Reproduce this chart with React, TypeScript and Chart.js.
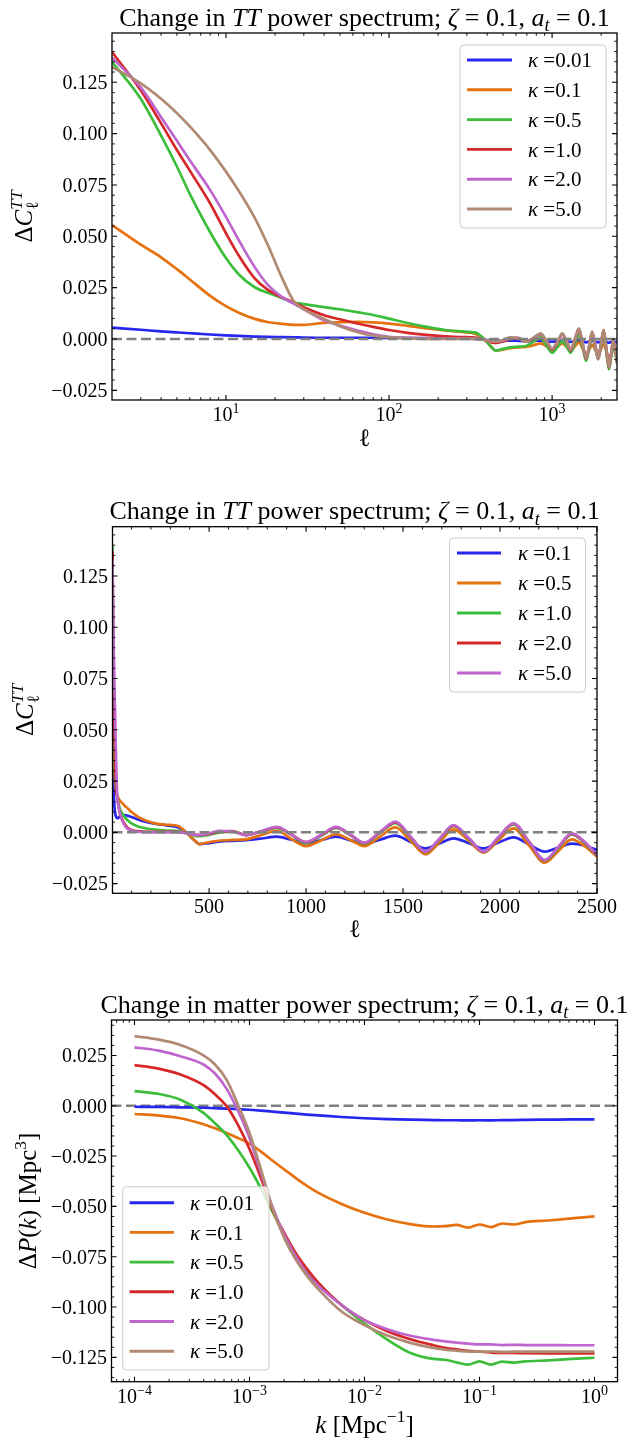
import React, { useEffect, useRef } from "react";
import { Chart, registerables } from "chart.js";
Chart.register(...registerables);

// ---------- CMB TT: multipole grid and ΔC_ℓ^TT for each κ ----------
const ELL = [
  2, 3, 4, 5, 6, 8, 10, 12, 15, 18, 22, 26, 30, 40, 50, 65, 80, 100, 130, 170,
  220, 280, 340, 380, 420, 450, 500, 550, 620, 690, 770, 850, 920, 1000, 1080,
  1155, 1230, 1300, 1380, 1460, 1540, 1615, 1690, 1760, 1840, 1915, 1990, 2070,
  2150, 2230, 2300, 2370, 2440, 2500,
];
const DCL_K001 = [
  0.0055, 0.0045, 0.0037, 0.0032, 0.0028, 0.0022, 0.0018, 0.0015, 0.0012, 0.001,
  0.0009, 0.0008, 0.0007, 0.0006, 0.0006, 0.0006, 0.0006, 0.0005, 0.0005, 0.0004,
  0.0003, 0.0002, 0.0001, -0.0003, -0.0008, -0.001, -0.0009, -0.0008, -0.0009, -0.001,
  -0.0009, -0.0008, -0.0011, -0.0013, -0.0011, -0.0009, -0.0012, -0.0014, -0.0011, -0.0008,
  -0.0012, -0.0016, -0.0012, -0.0009, -0.0013, -0.0016, -0.0012, -0.0009, -0.0014, -0.0018,
  -0.0014, -0.0011, -0.0014, -0.0017,
];
const DCL_K01 = [
  0.0555, 0.046, 0.0398, 0.034, 0.029, 0.021, 0.016, 0.0128, 0.0098, 0.0083,
  0.0074, 0.0069, 0.0069, 0.0079, 0.0082, 0.0084, 0.0081, 0.0075, 0.0064, 0.0052,
  0.0042, 0.0034, 0.0025, 0.0002, -0.0035, -0.0057, -0.0052, -0.0045, -0.0041, -0.0038,
  -0.003, -0.0021, -0.0035, -0.0053, -0.0037, -0.0021, -0.0039, -0.0057, -0.0036, -0.0016,
  -0.0047, -0.0078, -0.0053, -0.0029, -0.0053, -0.0078, -0.0051, -0.0024, -0.0059, -0.0094,
  -0.0074, -0.0055, -0.0065, -0.0086,
];
const DCL_K05 = [
  0.135, 0.117, 0.099, 0.084, 0.0707, 0.052, 0.0394, 0.0314, 0.0252, 0.0225,
  0.02, 0.0178, 0.017, 0.0155, 0.0145, 0.013, 0.0117, 0.0099, 0.0078, 0.0059,
  0.0044, 0.0037, 0.0031, 0.0002, -0.0035, -0.0057, -0.0048, -0.0041, -0.0037, -0.0034,
  -0.0013, 0.0008, -0.003, -0.0067, -0.0038, -0.001, -0.0038, -0.0067, -0.0022, 0.0024,
  -0.0042, -0.0107, -0.0046, 0.0015, -0.0042, -0.0099, -0.004, 0.0019, -0.0065, -0.0148,
  -0.0092, -0.0034, -0.007, -0.0118,
];
const DCL_K1 = [
  0.1397, 0.1211, 0.105, 0.092, 0.082, 0.066, 0.0515, 0.0405, 0.0295, 0.024,
  0.0203, 0.0177, 0.0155, 0.0116, 0.0096, 0.0074, 0.0059, 0.0044, 0.003, 0.002,
  0.0013, 0.0009, 0.0007, -0.0003, -0.0015, -0.0019, -0.0012, -0.0001, 0.0004, -0.0013,
  0.0003, 0.0022, -0.001, -0.0052, -0.0015, 0.0022, -0.0015, -0.0055, -0.0003, 0.0045,
  -0.0026, -0.0097, -0.0033, 0.0031, -0.0033, -0.0096, -0.0029, 0.0039, -0.0048, -0.0138,
  -0.0077, -0.001, -0.0055, -0.0112,
];
const DCL_K2 = [
  0.137, 0.1225, 0.108, 0.0965, 0.087, 0.0725, 0.0595, 0.048, 0.035, 0.0265,
  0.0205, 0.0172, 0.0145, 0.0091, 0.0066, 0.004, 0.0023, 0.0011, 0.0006, 0.0003,
  0.0002, 0.0002, 0.0002, -0.0003, -0.0011, -0.0013, -0.0008, 0.0003, 0.0006, -0.0013,
  0.0005, 0.0024, -0.0008, -0.0048, -0.0012, 0.0024, -0.0013, -0.0052, 0.0, 0.0049,
  -0.0023, -0.0095, -0.003, 0.0033, -0.003, -0.0095, -0.0027, 0.0042, -0.0046, -0.0136,
  -0.0073, -0.0007, -0.0052, -0.0111,
];
const DCL_K5 = [
  0.1325, 0.1245, 0.117, 0.11, 0.1035, 0.092, 0.0815, 0.072, 0.059, 0.046,
  0.03, 0.0185, 0.0145, 0.0098, 0.0062, 0.0032, 0.0017, 0.0008, 0.0003, 0.0001,
  0.0001, 0.0001, 0.0001, -0.0004, -0.0011, -0.0013, -0.0005, 0.0008, 0.0005, -0.0013,
  0.0007, 0.0027, -0.0008, -0.0047, -0.001, 0.0027, -0.0012, -0.005, 0.0001, 0.0052,
  -0.0021, -0.0094, -0.0029, 0.0036, -0.0029, -0.0094, -0.0025, 0.0044, -0.0045, -0.0135,
  -0.0071, -0.0005, -0.005, -0.011,
];

// ---------- Matter power: k grid [Mpc^-1] and ΔP(k) for each κ ----------
const K_MPC = [
  1.0e-4, 1.58e-4, 2.51e-4, 3.98e-4, 5.01e-4, 6.31e-4, 7.94e-4, 1.0e-3, 1.26e-3, 1.58e-3,
  2.0e-3, 2.51e-3, 3.16e-3, 3.98e-3, 6.31e-3, 1.0e-2, 1.58e-2, 2.51e-2, 3.98e-2, 5.01e-2,
  6.31e-2, 7.94e-2, 0.1, 0.126, 0.158, 0.2, 0.251, 0.398, 0.631, 1.0,
];
const DPK_K001 = [
  -0.0005, -0.0006, -0.0008, -0.001, -0.0012, -0.0014, -0.0017, -0.002, -0.0024, -0.0029,
  -0.0034, -0.0039, -0.0044, -0.0048, -0.0056, -0.0062, -0.0066, -0.0069, -0.0071, -0.0072,
  -0.0072, -0.0073, -0.0072, -0.0073, -0.0071, -0.0071, -0.007, -0.0069, -0.0068, -0.0068,
];
const DPK_K01 = [
  -0.0041, -0.0048, -0.0062, -0.0092, -0.0112, -0.0135, -0.016, -0.0188, -0.0228, -0.0272,
  -0.0316, -0.0358, -0.0398, -0.0433, -0.0488, -0.0532, -0.0565, -0.0588, -0.06, -0.0598,
  -0.0592, -0.0606, -0.059, -0.0603, -0.0585, -0.059, -0.0578, -0.057, -0.056, -0.055,
];
const DPK_K05 = [
  0.0073, 0.006, 0.003, -0.0035, -0.0087, -0.0145, -0.022, -0.0308, -0.0412, -0.0525,
  -0.064, -0.0735, -0.082, -0.0885, -0.099, -0.1082, -0.1162, -0.1228, -0.1258, -0.1262,
  -0.1275, -0.1286, -0.127, -0.1286, -0.1271, -0.1276, -0.127, -0.1265, -0.1258, -0.1252,
];
const DPK_K1 = [
  0.0202, 0.0186, 0.0155, 0.0102, 0.0057, -0.0002, -0.0095, -0.0215, -0.036, -0.0515,
  -0.063, -0.073, -0.081, -0.088, -0.099, -0.1065, -0.112, -0.116, -0.119, -0.1203,
  -0.121, -0.1218, -0.1222, -0.1226, -0.1228, -0.1228, -0.1229, -0.123, -0.123, -0.123,
];
const DPK_K2 = [
  0.029, 0.0275, 0.0246, 0.0205, 0.016, 0.0085, -0.0025, -0.016, -0.0335, -0.05,
  -0.064, -0.0745, -0.0833, -0.0895, -0.099, -0.1065, -0.111, -0.1143, -0.1163, -0.1171,
  -0.1177, -0.1182, -0.1186, -0.1186, -0.1189, -0.1188, -0.1189, -0.1189, -0.119, -0.119,
];
const DPK_K5 = [
  0.0346, 0.033, 0.0302, 0.025, 0.0205, 0.013, 0.0005, -0.0135, -0.0318, -0.0508,
  -0.0655, -0.0762, -0.0845, -0.0912, -0.1022, -0.109, -0.1142, -0.1178, -0.1203, -0.1212,
  -0.1217, -0.1221, -0.1222, -0.1221, -0.1223, -0.1222, -0.1222, -0.1222, -0.1222, -0.1222,
];

// ---------- tick values ----------
const Y_TICKS_CL = [-0.025, 0.0, 0.025, 0.05, 0.075, 0.1, 0.125];
const Y_TICKS_PK = [-0.125, -0.1, -0.075, -0.05, -0.025, 0.0, 0.025];
const X_TICKS_ELL_LOG = [10, 100, 1000];
const X_TICKS_ELL_LIN = [500, 1000, 1500, 2000, 2500];
const X_TICKS_K = [1e-4, 1e-3, 1e-2, 1e-1, 1];

// ---------- colours ----------
const C_BLUE = "#2626ee";
const C_ORANGE = "#e5720f";
const C_GREEN = "#3cbe3c";
const C_RED = "#d62828";
const C_PURPLE = "#be66cd";
const C_BROWN = "#b08a72";
const C_ZERO = "#808080";

const SERIF = '"Liberation Serif", "Times New Roman", Times, serif';

type Seg = { t: string; it?: boolean; sup?: boolean; sub?: boolean; stack?: boolean };

function fontFor(s: Seg, size: number) {
  const sz = s.sup || s.sub ? size * 0.7 : size;
  return `${s.it ? "italic " : ""}${sz}px ${SERIF}`;
}

function drawRich(
  ctx: CanvasRenderingContext2D,
  segs: Seg[],
  x: number,
  y: number,
  size: number,
  align: "left" | "center" | "right"
) {
  const items: { s: Seg; x: number }[] = [];
  let cx = 0;
  let stackW = 0;
  let stackX = 0;
  for (const s of segs) {
    ctx.font = fontFor(s, size);
    const w = ctx.measureText(s.t).width;
    if (s.stack) {
      items.push({ s, x: cx });
      stackW = w;
      stackX = cx;
      continue;
    }
    if (stackW > 0) {
      items.push({ s, x: stackX });
      cx = stackX + Math.max(w, stackW);
      stackW = 0;
      continue;
    }
    items.push({ s, x: cx });
    cx += w;
  }
  const x0 = align === "center" ? x - cx / 2 : align === "right" ? x - cx : x;
  ctx.textAlign = "left";
  ctx.textBaseline = "alphabetic";
  for (const it of items) {
    ctx.font = fontFor(it.s, size);
    const dy = it.s.sup ? -0.42 * size : it.s.sub ? 0.22 * size : 0;
    ctx.fillText(it.s.t, x0 + it.x, y + dy);
  }
}

const kappaLabel = (v: string): Seg[] => [{ t: "κ", it: true }, { t: " =" + v }];
const fmtY = (v: number) => (v < 0 ? "\u2212" : "") + Math.abs(v).toFixed(3);
const pow10Label = (v: number): Seg[] => {
  const e = Math.round(Math.log10(v));
  return [{ t: "10" }, { t: (e < 0 ? "\u2212" : "") + Math.abs(e), sup: true }];
};

function logMinors(min: number, max: number, majors: number[]) {
  const out: number[] = [];
  for (let e = -6; e <= 4; e++) {
    for (let m = 2; m <= 9; m++) {
      const v = m * Math.pow(10, e);
      if (v > min * 1.0001 && v < max * 0.9999 && !majors.includes(v)) out.push(v);
    }
  }
  return out;
}
function linMinors(min: number, max: number, step: number, majors: number[]) {
  const out: number[] = [];
  const i0 = Math.ceil(min / step);
  const i1 = Math.floor(max / step);
  for (let i = i0; i <= i1; i++) {
    const v = +(i * step).toFixed(6);
    if (!majors.some((m) => Math.abs(m - v) < step / 10)) out.push(v);
  }
  return out;
}

interface Series { label: Seg[]; color: string; xs: number[]; ys: number[] }
interface Panel {
  H: number;
  area: { l: number; r: number; t: number; b: number };
  xLog: boolean;
  xMin: number; xMax: number; yMin: number; yMax: number;
  xMajor: number[]; xMinor: number[]; yMajor: number[]; yMinor: number[];
  xTickLabel: (v: number) => Seg[];
  xTickBase: number;
  title: Seg[];
  xTitle: Seg[]; xTitleBase: number;
  yTitle: Seg[]; yTitleX: number;
  series: Series[];
  zeroOnTop: boolean;
  legend: { x: number; y: number; w: number; h: number; row0: number; step: number; lx0: number; lx1: number; tx: number };
}

const TT_TITLE: Seg[] = [
  { t: "Change in " }, { t: "TT", it: true }, { t: " power spectrum; " },
  { t: "ζ", it: true }, { t: " = 0.1, " }, { t: "a", it: true }, { t: "t", it: true, sub: true }, { t: " = 0.1" },
];
const PK_TITLE: Seg[] = [
  { t: "Change in matter power spectrum; " },
  { t: "ζ", it: true }, { t: " = 0.1, " }, { t: "a", it: true }, { t: "t", it: true, sub: true }, { t: " = 0.1" },
];
const CL_YTITLE: Seg[] = [
  { t: "Δ" }, { t: "C", it: true }, { t: "ℓ", sub: true, stack: true }, { t: "TT", it: true, sup: true },
];

const CL_Y_MIN = -0.0297;
const CL_Y_MAX = 0.149;

const PANEL1: Panel = {
  H: 480,
  area: { l: 112, r: 617, t: 33, b: 400 },
  xLog: true, xMin: 2, xMax: 2500, yMin: CL_Y_MIN, yMax: CL_Y_MAX,
  xMajor: X_TICKS_ELL_LOG, xMinor: logMinors(2, 2500, X_TICKS_ELL_LOG),
  yMajor: Y_TICKS_CL, yMinor: linMinors(CL_Y_MIN, CL_Y_MAX, 0.005, Y_TICKS_CL),
  xTickLabel: pow10Label, xTickBase: 421,
  title: TT_TITLE,
  xTitle: [{ t: "ℓ" }], xTitleBase: 446,
  yTitle: CL_YTITLE, yTitleX: 32,
  series: [
    { label: kappaLabel("0.01"), color: C_BLUE, xs: ELL, ys: DCL_K001 },
    { label: kappaLabel("0.1"), color: C_ORANGE, xs: ELL, ys: DCL_K01 },
    { label: kappaLabel("0.5"), color: C_GREEN, xs: ELL, ys: DCL_K05 },
    { label: kappaLabel("1.0"), color: C_RED, xs: ELL, ys: DCL_K1 },
    { label: kappaLabel("2.0"), color: C_PURPLE, xs: ELL, ys: DCL_K2 },
    { label: kappaLabel("5.0"), color: C_BROWN, xs: ELL, ys: DCL_K5 },
  ],
  zeroOnTop: true,
  legend: { x: 460, y: 45, w: 146, h: 183, row0: 60, step: 29.8, lx0: 467, lx1: 512, tx: 528 },
};

const PANEL2: Panel = {
  H: 480,
  area: { l: 112.5, r: 597, t: 46.7, b: 413.3 },
  xLog: false, xMin: 2, xMax: 2500, yMin: CL_Y_MIN, yMax: CL_Y_MAX,
  xMajor: X_TICKS_ELL_LIN, xMinor: linMinors(2, 2500, 100, X_TICKS_ELL_LIN),
  yMajor: Y_TICKS_CL, yMinor: linMinors(CL_Y_MIN, CL_Y_MAX, 0.005, Y_TICKS_CL),
  xTickLabel: (v) => [{ t: String(v) }], xTickBase: 433.3,
  title: TT_TITLE,
  xTitle: [{ t: "ℓ" }], xTitleBase: 457,
  yTitle: CL_YTITLE, yTitleX: 33,
  series: [
    { label: kappaLabel("0.1"), color: C_BLUE, xs: ELL, ys: DCL_K01 },
    { label: kappaLabel("0.5"), color: C_ORANGE, xs: ELL, ys: DCL_K05 },
    { label: kappaLabel("1.0"), color: C_GREEN, xs: ELL, ys: DCL_K1 },
    { label: kappaLabel("2.0"), color: C_RED, xs: ELL, ys: DCL_K2 },
    { label: kappaLabel("5.0"), color: C_PURPLE, xs: ELL, ys: DCL_K5 },
  ],
  zeroOnTop: true,
  legend: { x: 449.5, y: 58, w: 136, h: 154, row0: 73, step: 30, lx0: 457, lx1: 501, tx: 518 },
};

const PK_Y_MIN = -0.1371;
const PK_Y_MAX = 0.0426;
const PK_X_MIN = Math.pow(10, -4.2);
const PK_X_MAX = Math.pow(10, 0.2);

const PANEL3: Panel = {
  H: 479,
  area: { l: 111.5, r: 617.5, t: 60, b: 421.7 },
  xLog: true, xMin: PK_X_MIN, xMax: PK_X_MAX, yMin: PK_Y_MIN, yMax: PK_Y_MAX,
  xMajor: X_TICKS_K, xMinor: logMinors(PK_X_MIN, PK_X_MAX, X_TICKS_K),
  yMajor: Y_TICKS_PK, yMinor: linMinors(PK_Y_MIN, PK_Y_MAX, 0.005, Y_TICKS_PK),
  xTickLabel: pow10Label, xTickBase: 443.3,
  title: PK_TITLE,
  xTitle: [{ t: "k", it: true }, { t: " [Mpc" }, { t: "\u22121", sup: true }, { t: "]" }], xTitleBase: 472.5,
  yTitle: [
    { t: "Δ" }, { t: "P", it: true }, { t: "(" }, { t: "k", it: true }, { t: ")" },
    { t: " [Mpc" }, { t: "3", sup: true }, { t: "]" },
  ],
  yTitleX: 36,
  series: [
    { label: kappaLabel("0.01"), color: C_BLUE, xs: K_MPC, ys: DPK_K001 },
    { label: kappaLabel("0.1"), color: C_ORANGE, xs: K_MPC, ys: DPK_K01 },
    { label: kappaLabel("0.5"), color: C_GREEN, xs: K_MPC, ys: DPK_K05 },
    { label: kappaLabel("1.0"), color: C_RED, xs: K_MPC, ys: DPK_K1 },
    { label: kappaLabel("2.0"), color: C_PURPLE, xs: K_MPC, ys: DPK_K2 },
    { label: kappaLabel("5.0"), color: C_BROWN, xs: K_MPC, ys: DPK_K5 },
  ],
  zeroOnTop: false,
  legend: { x: 122.7, y: 226.7, w: 146.3, h: 183.3, row0: 242.7, step: 29.7, lx0: 129.6, lx1: 174, tx: 190 },
};

const W = 631;
const LINE_W = 2.7;

function makeChart(canvas: HTMLCanvasElement, p: Panel) {
  const datasets: any[] = p.series.map((s, i) => ({
    data: s.xs.map((x, j) => ({ x, y: s.ys[j] })),
    borderColor: s.color,
    borderWidth: LINE_W,
    pointRadius: 0,
    fill: false,
    cubicInterpolationMode: "monotone",
    order: p.series.length - i + 1,
  }));
  datasets.push({
    data: [{ x: p.xMin, y: 0 }, { x: p.xMax, y: 0 }],
    borderColor: C_ZERO,
    borderWidth: 2.5,
    borderDash: [10, 4.5],
    pointRadius: 0,
    fill: false,
    order: p.zeroOnTop ? 0 : 100,
  });

  const decor = {
    id: "decor",
    afterDraw(chart: any) {
      const ctx: CanvasRenderingContext2D = chart.ctx;
      const xs = chart.scales.x;
      const ys = chart.scales.y;
      const { left, right, top, bottom } = chart.chartArea;
      ctx.save();
      ctx.fillStyle = "#000";
      ctx.strokeStyle = "#000";
      const tick = (len: number, lw: number, xv: number[], yv: number[]) => {
        ctx.lineWidth = lw;
        ctx.beginPath();
        for (const v of xv) {
          const px = xs.getPixelForValue(v);
          ctx.moveTo(px, bottom); ctx.lineTo(px, bottom - len);
          ctx.moveTo(px, top); ctx.lineTo(px, top + len);
        }
        for (const v of yv) {
          const py = ys.getPixelForValue(v);
          ctx.moveTo(left, py); ctx.lineTo(left + len, py);
          ctx.moveTo(right, py); ctx.lineTo(right - len, py);
        }
        ctx.stroke();
      };
      tick(5, 1.1, p.xMajor, p.yMajor);
      tick(2.8, 0.9, p.xMinor, p.yMinor);
      ctx.lineWidth = 1.3;
      ctx.strokeRect(left, top, right - left, bottom - top);
      for (const v of p.yMajor) {
        const py = ys.getPixelForValue(v);
        drawRich(ctx, [{ t: fmtY(v) }], left - 4.5, py + 6.8, 20, "right");
      }
      for (const v of p.xMajor) {
        const px = xs.getPixelForValue(v);
        drawRich(ctx, p.xTickLabel(v), px, p.xTickBase, 20, "center");
      }
      const cx = (left + right) / 2;
      drawRich(ctx, p.title, cx, top - 7.5, 26, "center");
      drawRich(ctx, p.xTitle, cx, p.xTitleBase, 25, "center");
      ctx.save();
      ctx.translate(p.yTitleX, (top + bottom) / 2);
      ctx.rotate(-Math.PI / 2);
      drawRich(ctx, p.yTitle, 0, 0, 25, "center");
      ctx.restore();
      const L = p.legend;
      ctx.beginPath();
      if ((ctx as any).roundRect) (ctx as any).roundRect(L.x, L.y, L.w, L.h, 4);
      else ctx.rect(L.x, L.y, L.w, L.h);
      ctx.fillStyle = "rgba(255,255,255,0.8)";
      ctx.fill();
      ctx.strokeStyle = "#cccccc";
      ctx.lineWidth = 1;
      ctx.stroke();
      p.series.forEach((s, i) => {
        const ry = L.row0 + i * L.step;
        ctx.strokeStyle = s.color;
        ctx.lineWidth = LINE_W + 0.2;
        ctx.beginPath();
        ctx.moveTo(L.lx0, ry);
        ctx.lineTo(L.lx1, ry);
        ctx.stroke();
        ctx.fillStyle = "#000";
        drawRich(ctx, s.label, L.tx, ry + 7.2, 21, "left");
      });
      ctx.restore();
    },
  };

  return new Chart(canvas, {
    type: "line",
    data: { datasets },
    options: {
      responsive: false,
      animation: false,
      devicePixelRatio: 1,
      events: [],
      layout: { padding: { left: 0, top: p.area.t, right: W - p.area.r, bottom: 0 } },
      plugins: { legend: { display: false }, tooltip: { enabled: false }, title: { display: false } },
      scales: {
        x: {
          type: p.xLog ? "logarithmic" : "linear",
          min: p.xMin,
          max: p.xMax,
          grid: { display: false, drawTicks: false },
          border: { display: false },
          ticks: { display: false },
          afterFit: (s: any) => { s.height = p.H - p.area.b; },
        },
        y: {
          type: "linear",
          min: p.yMin,
          max: p.yMax,
          grid: { display: false, drawTicks: false },
          border: { display: false },
          ticks: { display: false },
          afterFit: (s: any) => { s.width = p.area.l; },
        },
      },
    } as any,
    plugins: [decor],
  });
}

export default function App() {
  const r1 = useRef<HTMLCanvasElement>(null);
  const r2 = useRef<HTMLCanvasElement>(null);
  const r3 = useRef<HTMLCanvasElement>(null);
  useEffect(() => {
    const charts = [
      makeChart(r1.current!, PANEL1),
      makeChart(r2.current!, PANEL2),
      makeChart(r3.current!, PANEL3),
    ];
    return () => charts.forEach((c) => c.destroy());
  }, []);
  const cs = (top: number, h: number): React.CSSProperties => ({
    position: "absolute", left: 0, top, width: W, height: h, display: "block",
  });
  return (
    <div style={{ position: "absolute", left: 0, top: 0, width: W, height: 1439, background: "#fff", overflow: "hidden" }}>
      <canvas ref={r1} width={W} height={480} style={cs(0, 480)} />
      <canvas ref={r2} width={W} height={480} style={cs(480, 480)} />
      <canvas ref={r3} width={W} height={479} style={cs(960, 479)} />
    </div>
  );
}
